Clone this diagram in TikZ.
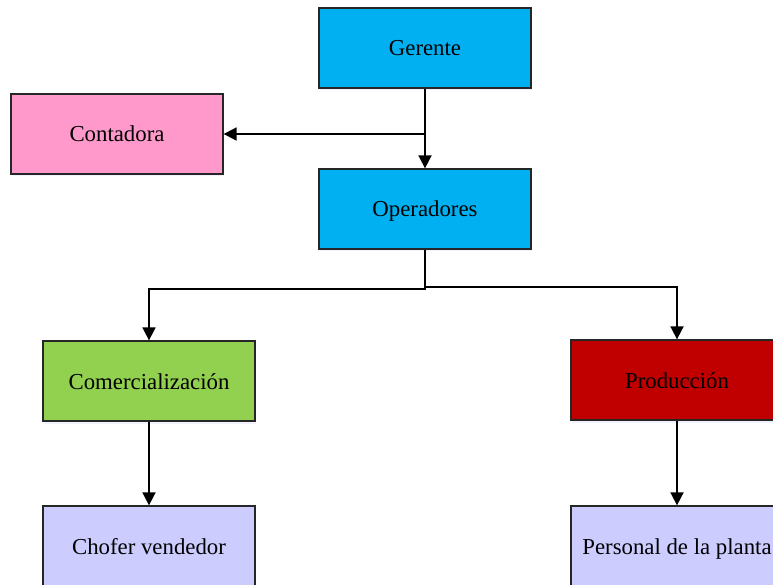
\documentclass[tikz,border=0pt]{standalone}
\usepackage{fontspec}
\setmainfont{Liberation Serif}
\usetikzlibrary{arrows.meta,shadows}
\definecolor{cCyan}{HTML}{00B0F0}
\definecolor{cPink}{HTML}{FF99CC}
\definecolor{cGreen}{HTML}{92D050}
\definecolor{cRed}{HTML}{C00000}
\definecolor{cLav}{HTML}{CCCCFF}
\definecolor{cEdge}{HTML}{262626}
\begin{document}
\begin{tikzpicture}[x=1pt,y=-1pt,
  orgbox/.style={draw=cEdge, line width=1.3pt, minimum width=212pt, minimum height=80pt,
    inner sep=0pt, text height=18pt, text depth=2pt,
    font=\fontsize{22.8}{27}\selectfont,
    drop shadow={opacity=0.12, fill=blue!40, shadow xshift=0.5pt, shadow yshift=-2.5pt}},
  link/.style={draw=black, line width=1.8pt},
  arr/.style={link, -{Triangle[length=13pt,width=13pt]}}]
  \useasboundingbox (0,0) rectangle (773,585);
  \clip (0,0) rectangle (773,585);
  \fill[white] (0,0) rectangle (773,585);

  % boxes of the chart
  \node[orgbox, fill=cCyan]  (ger)  at (425,48)  {Gerente};
  \node[orgbox, fill=cPink]  (con)  at (117,134) {Contadora};
  \node[orgbox, fill=cCyan]  (ope)  at (425,209) {Operadores};
  \node[orgbox, fill=cGreen] (com)  at (149,381) {Comercialización};
  \node[orgbox, fill=cRed]   (pro)  at (677,380) {Producción};
  \node[orgbox, fill=cLav]   (cho)  at (149,546) {Chofer vendedor};
  \node[orgbox, fill=cLav]   (per)  at (677,546) {Personal de la planta};

  % connectors
  \draw[arr] (ger.south) -- (ope.north);
  \coordinate (jc) at (ger.south |- con.east);
  \draw[arr] (jc) -- (con.east);
  \draw[arr] (ope.south) -- ++(0,39) -| (com.north);
  \draw[arr] (ope.south) -- ++(0,37) -| (pro.north);
  \draw[arr] (com.south) -- (cho.north);
  \draw[arr] (pro.south) -- (per.north);
\end{tikzpicture}
\end{document}
